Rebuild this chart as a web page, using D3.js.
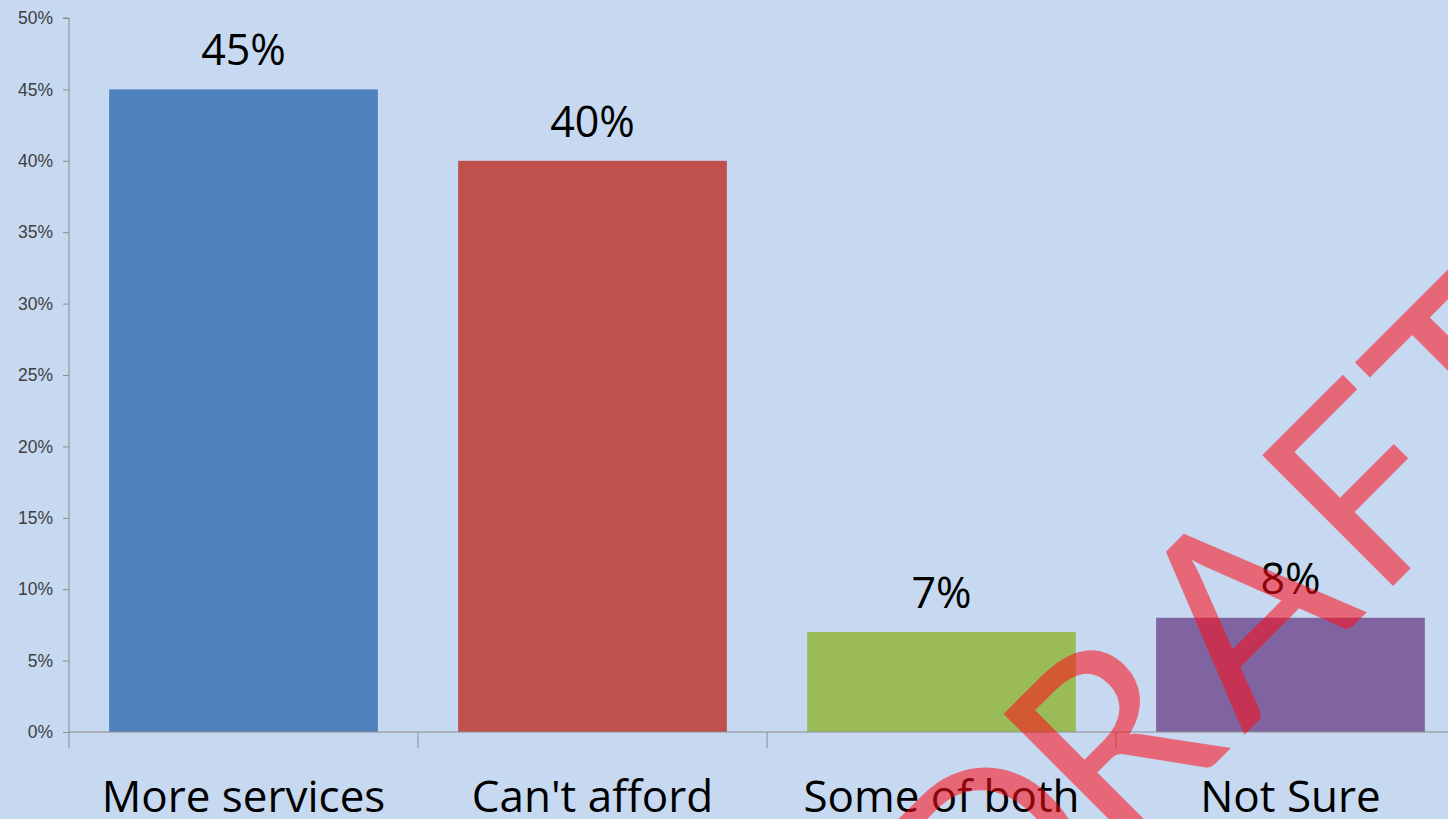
<!DOCTYPE html>
<html><head><meta charset="utf-8">
<script src="https://cdn.jsdelivr.net/npm/d3@7"></script>
<style>html,body{margin:0;padding:0;background:#C6D9F1;overflow:hidden}</style>
</head><body>
<svg id="c" width="1448" height="819"></svg>
<script>
const categories = ["More services", "Can't afford", "Some of both", "Not Sure"];
const values = [0.45, 0.40, 0.07, 0.08];
const colors = ["#4F81BD", "#C0504D", "#9BBB59", "#8064A2"];
const yTicks = [0, 0.05, 0.10, 0.15, 0.20, 0.25, 0.30, 0.35, 0.40, 0.45, 0.50];
const watermark = "DRAFT";

const svg = d3.select("#c");
svg.append("rect").attr("width",1448).attr("height",819).attr("fill","#C6D9F1");

const x = d3.scaleBand().domain(categories).range([69, 1465]).paddingInner(0.23).paddingOuter(0.115);
const y = d3.scaleLinear().domain([0, 0.5]).range([732, 18]);

// y axis
const ya = svg.append("g").attr("transform","translate(69,0)")
  .call(d3.axisLeft(y).tickValues(yTicks).tickFormat(d3.format(".0%")).tickSize(6).tickPadding(10));
ya.select(".domain").attr("stroke","#8C8C8C").attr("d","M-6,18H0V732");
ya.selectAll(".tick line").attr("stroke","#8C8C8C");
ya.selectAll(".tick text").attr("fill","#404040").style("font-family","'Liberation Sans', Arial, sans-serif").style("font-size","17.5px");

// bars
svg.selectAll("rect.bar").data(categories).enter().append("rect").attr("class","bar")
  .attr("x", d => x(d)).attr("width", x.bandwidth())
  .attr("y", (d,i) => y(values[i])).attr("height", (d,i) => y(0) - y(values[i]))
  .attr("fill", (d,i) => colors[i]);

// x axis
svg.append("line").attr("x1",69).attr("x2",1448).attr("y1",732).attr("y2",732).attr("stroke","#8C8C8C");
const step = x.step();
const bounds = categories.map(d => x(d) - x.paddingInner()*step/2);
svg.selectAll("line.xt").data(bounds).enter().append("line").attr("class","xt")
  .attr("x1", d => d).attr("x2", d => d).attr("y1", 732).attr("y2", 748).attr("stroke","#8C8C8C");

// category labels
svg.selectAll("text.cat").data(categories).enter().append("text").attr("class","cat")
  .attr("x", d => x(d) + x.bandwidth()/2).attr("y", 812).attr("text-anchor","middle")
  .style("font-family","'Open Sans', sans-serif").style("font-size","44px").attr("fill","#000")
  .text(d => d);

// value labels
svg.selectAll("text.val").data(categories).enter().append("text").attr("class","val")
  .attr("x", d => x(d) + x.bandwidth()/2).attr("y", (d,i) => y(values[i]) - 24).attr("text-anchor","middle")
  .style("font-family","'Open Sans', sans-serif").style("font-size","43px").attr("fill","#000")
  .text((d,i) => d3.format(".0%")(values[i]));

// watermark: letters along a 45° baseline (x + y = 1979)
const wmOffsets = [94, 262, 447, 620, 774];
const wm = svg.append("g").attr("fill","#FF0A14").attr("fill-opacity",0.55)
  .style("font-family","Lato, 'Open Sans', sans-serif").style("font-size","258px");
wm.selectAll("text").data(watermark.split("")).enter().append("text")
  .attr("text-anchor","middle")
  .attr("transform", (c,i) => {
    const s = wmOffsets[i] / Math.SQRT2;
    return `translate(${989.5 + s},${989.5 - s}) rotate(-45)`;
  })
  .text(c => c);
</script>
</body></html>
